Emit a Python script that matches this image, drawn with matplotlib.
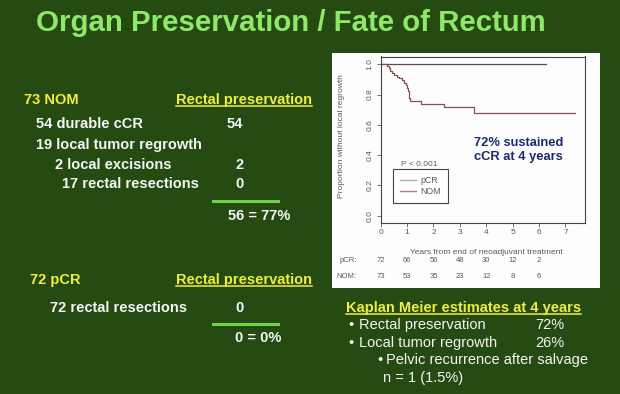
import matplotlib.pyplot as plt
from matplotlib.lines import Line2D

W, H = 620, 394

# Kaplan-Meier curves: years vs proportion without local regrowth
nom_years = [0, 0.24, 0.30, 0.36, 0.44, 0.52, 0.60, 0.70, 0.80, 0.88, 0.95, 1.00,
             1.04, 1.06, 1.08, 1.10, 1.53, 2.41, 3.55, 7.38]
nom_surv = [1.0, 0.986, 0.972, 0.958, 0.944, 0.932, 0.918, 0.906, 0.893, 0.879, 0.862,
            0.844, 0.822, 0.80, 0.78, 0.758, 0.738, 0.716, 0.677, 0.677]
pcr_years = [0, 6.25]
pcr_surv = [1.0, 1.0]

risk_years = [0, 1, 2, 3, 4, 5, 6]
pcr_at_risk = [72, 66, 56, 48, 30, 12, 2]
nom_at_risk = [73, 53, 35, 23, 12, 8, 6]

# left-hand tables
nom_items = ["54 durable cCR", "19 local tumor regrowth", "2 local excisions", "17 rectal resections"]
nom_kept = ["54", "", "2", "0"]
pcr_items = ["72 rectal resections"]
pcr_kept = ["0"]

km_items = ["Rectal preservation", "Local tumor regrowth"]
km_values = ["72%", "26%"]

BG = "#254b12"
YELLOW = "#f0ee3c"
WHITE = "#f5f5f5"
GREEN = "#6fd24a"
GRAY = "#5a5a5a"
FONT = "Liberation Sans"

plt.rcParams["font.family"] = FONT

fig = plt.figure(figsize=(W / 100, H / 100), dpi=100)
fig.patch.set_facecolor(BG)


def fx(x):
    return x / W


def fy(y):
    return 1 - y / H


def put(x, y, s, **kw):
    kw.setdefault("color", WHITE)
    kw.setdefault("fontsize", 10.5)
    kw.setdefault("fontweight", "bold")
    kw.setdefault("va", "baseline")
    return fig.text(fx(x), fy(y), s, **kw)


def hline(x0, x1, y, color, lw):
    fig.add_artist(Line2D([fx(x0), fx(x1)], [fy(y), fy(y)], color=color, lw=lw,
                          transform=fig.transFigure))


def underline(t, dy):
    fig.canvas.draw()
    bb = t.get_window_extent(fig.canvas.get_renderer())
    y = t.get_position()[1]
    hline(bb.x0, bb.x0 + bb.width, (1 - y) * H + dy, t.get_color(), 1.1)


# title
put(36, 31, "Organ Preservation / Fate of Rectum", color="#8fe868", fontsize=21.2)

# white panel behind the plot
fig.add_artist(plt.Rectangle((fx(332), fy(288)), fx(600) - fx(332), fy(53) - fy(288),
                             facecolor="#fdfdfd", edgecolor="none", zorder=-1,
                             transform=fig.transFigure))

# NOM table
put(24, 104, "73 NOM", color=YELLOW)
underline(put(175.7, 104, "Rectal preservation", color=YELLOW), 2)
row_y = [128.5, 149.5, 169.3, 188.3]
row_x = [35.7, 35.7, 55, 62]
for x, y, s, k in zip(row_x, row_y, nom_items, nom_kept):
    put(x, y, s)
    if k:
        put(243.3, y, k, ha="right")
hline(213.3, 277.7, 200.7, GREEN, 2.2)
put(227.7, 220, "56 = 77%")

# pCR table
put(30, 284, "72 pCR", color=YELLOW)
underline(put(175.7, 284, "Rectal preservation", color=YELLOW), 2)
for s, k in zip(pcr_items, pcr_kept):
    put(50, 312.3, s)
    put(243.3, 312.3, k, ha="right")
hline(213.3, 277.7, 324, GREEN, 2.2)
put(235, 342.3, "0 = 0%")

# Kaplan Meier estimates
underline(put(346, 312.3, "Kaplan Meier estimates at 4 years", color=YELLOW), 1.8)
for y, s, v in zip([329.3, 347.3], km_items, km_values):
    put(348.3, y, "\u2022", fontweight="normal")
    put(359, y, s, fontweight="normal")
    put(535, y, v, fontweight="normal")
put(377.3, 364, "\u2022", fontweight="normal")
put(386, 364, "Pelvic recurrence after salvage", fontweight="normal")
put(383.3, 381.7, "n = 1 (1.5%)", fontweight="normal")

# KM plot
ax = fig.add_axes([fx(380.7), fy(223), fx(585) - fx(380.7), fy(56.5) - fy(223)])
ax.set_facecolor("#fdfdfd")
ax.step(pcr_years, pcr_surv, where="post", color="#5e4c4c", lw=0.9)
ax.step(nom_years, nom_surv, where="post", color="#8c4e4e", lw=0.9)
ax.set_xlim(0, 7.74)
ax.set_ylim(-0.048, 1.051)
ax.set_xticks(range(8))
ax.set_yticks([0, 0.2, 0.4, 0.6, 0.8, 1.0])
ax.set_yticklabels(["0.0", "0.2", "0.4", "0.6", "0.8", "1.0"], rotation=90, va="center")
ax.tick_params(labelsize=6, colors=GRAY, length=3, width=0.6, pad=1)
ax.tick_params(axis="y", pad=2)
for sp in ax.spines.values():
    sp.set_color("#444444")
    sp.set_linewidth(0.8)

ax.set_ylabel("Proportion without local regrowth", fontsize=6, color=GRAY)
ax.yaxis.set_label_coords(-0.175, 0.52)
ax.set_xlabel("Years from end of neoadjuvant treatment", fontsize=6, color=GRAY)
ax.xaxis.set_label_coords(0.515, -0.158)

# numbers at risk
tr = ax.get_xaxis_transform()
for row_y, name, counts in [(-0.228, "pCR:", pcr_at_risk), (-0.3225, "NOM:", nom_at_risk)]:
    ax.text(-0.1175, row_y, name, transform=ax.transAxes, ha="right", va="center",
            fontsize=5.5, color=GRAY)
    for yr, n in zip(risk_years, counts):
        ax.text(yr, row_y, str(n), transform=tr, ha="center", va="center",
                fontsize=5.5, color=GRAY, clip_on=False)

handles = [Line2D([], [], color="#b4b0b0", lw=1), Line2D([], [], color="#b08080", lw=1)]
leg = ax.legend(handles, ["pCR", "NOM"], loc="upper left", bbox_to_anchor=(0.0617, 0.326),
                borderaxespad=0, fontsize=6.3, handlelength=1.8, handletextpad=0.5,
                borderpad=0.8, labelspacing=0.3, fancybox=False, framealpha=1,
                edgecolor="#444444")
leg.get_frame().set_linewidth(0.8)
for t in leg.get_texts():
    t.set_color(GRAY)
ax.text(0.189, 0.354, "P < 0.001", transform=ax.transAxes, ha="center", va="center",
        fontsize=6, color=GRAY)

ax.text(0.673, 0.438, "72% sustained\ncCR at 4 years", transform=ax.transAxes,
        ha="center", va="center", fontsize=9.3, fontweight="bold", color="#1c2a6c",
        linespacing=1.15)

fig.savefig("out.png", dpi=100, facecolor=BG)
